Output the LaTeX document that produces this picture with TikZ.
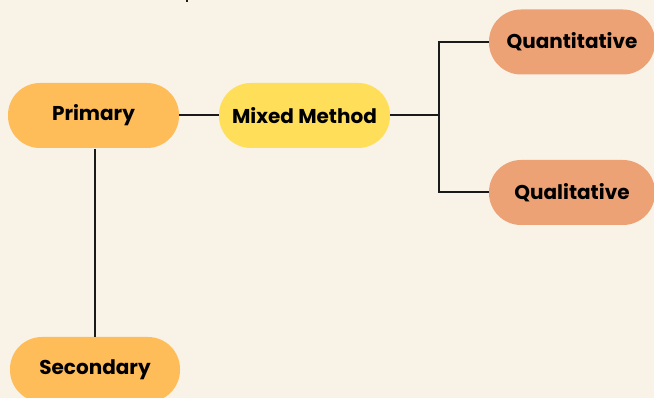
\documentclass[tikz,border=0pt]{standalone}
\usepackage{fontspec}
\setmainfont{Poppins}
\definecolor{bg}{HTML}{F9F2E6}
\definecolor{orangeA}{HTML}{FFBD59}
\definecolor{yellowA}{HTML}{FFDE59}
\definecolor{salmon}{HTML}{EDA276}
\definecolor{ink}{HTML}{1A1A1A}
\tikzset{
  x=1pt,y=-1pt,
  pill/.style={rounded corners=32pt, minimum width=171pt, minimum height=65pt, inner sep=0pt,
    font=\fontsize{20}{24}\selectfont\bfseries, text=black},
  conn/.style={draw=ink, line width=2pt}
}
\begin{document}
\begin{tikzpicture}
\useasboundingbox (0,0) rectangle (654,398);
\clip (0,0) rectangle (654,398);
\fill[bg] (0,0) rectangle (654,398);
\node[pill, fill=orangeA] (prim) at (93.5,115.5) {Primary};
\node[pill, fill=yellowA] (mix) at (304.5,115.5) {Mixed Method};
\node[pill, fill=salmon, minimum width=166pt] (quant) at (572,42) {Quantitative};
\node[pill, fill=salmon, minimum width=166pt] (qual) at (572,192.5) {Qualitative};
\node[pill, fill=orangeA, minimum width=170pt] (sec) at (95,369.5) {Secondary};
\coordinate (fork) at (439,115.5);
\coordinate (stub) at (187,0);
\draw[conn] (prim.east) -- (mix.west);
\draw[conn] (mix.east) -- (fork);
\draw[conn] (quant.west) -- (fork |- quant.west) -- (fork |- qual.west) -- (qual.west);
\draw[conn] (95,149) coordinate (p1) -- (sec.north -| p1);
\draw[conn] (stub) -- ++(0,2.5);
\end{tikzpicture}
\end{document}
